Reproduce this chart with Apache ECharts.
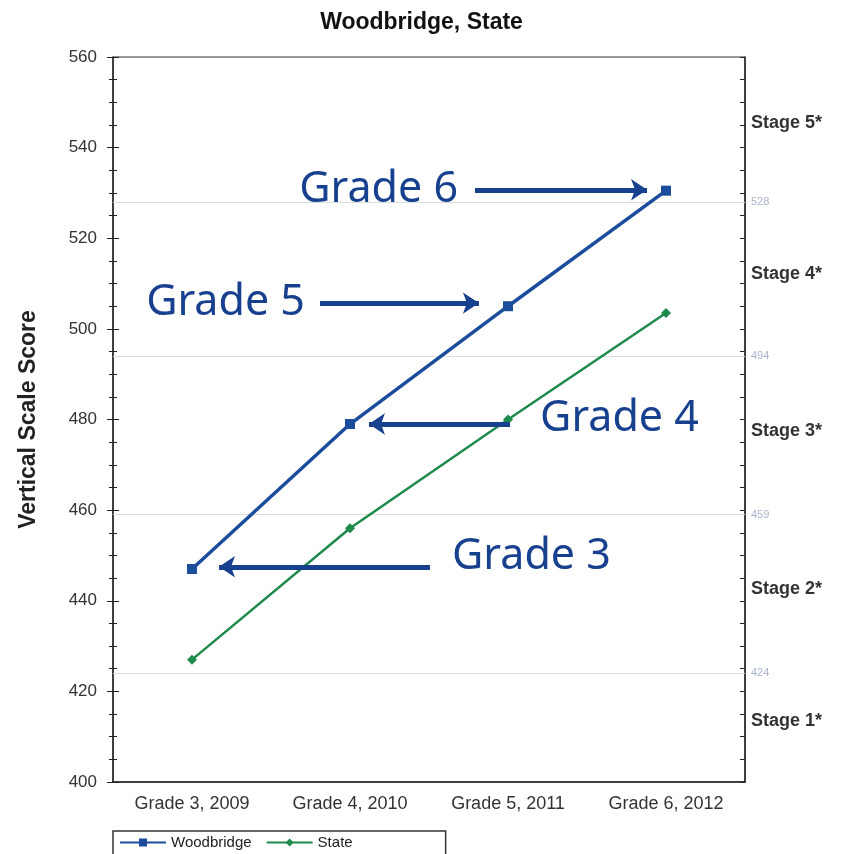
<!DOCTYPE html>
<html>
<head>
<meta charset="utf-8">
<script src="https://cdn.jsdelivr.net/npm/echarts@6/dist/echarts.min.js"></script>
<style>
html,body{margin:0;padding:0;background:#fff;}
#c{width:843px;height:854px;}
</style>
</head>
<body>
<div id="c"></div>
<script>
// ---- data ----
var categories = ['Grade 3, 2009', 'Grade 4, 2010', 'Grade 5, 2011', 'Grade 6, 2012'];
var woodbridge = [447, 479, 505, 530.5];
var state = [427, 456, 480, 503.5];
var cutScores = [424, 459, 494, 528];
var stageNames = ['Stage 1*', 'Stage 2*', 'Stage 3*', 'Stage 4*', 'Stage 5*'];
var stageValues = [413.5, 442.5, 477.5, 512, 545.5];
// annotation arrows in (category index, score) space
var arrowFrom = [[1.506, 447.5], [2.013, 479.0], [0.810, 505.7], [1.791, 530.7]];
var arrowTo   = [[0.171, 447.5], [1.120, 479.0], [1.816, 505.7], [2.880, 530.7]];
var noteTexts = ['Grade 3', 'Grade 4', 'Grade 5', 'Grade 6'];
var notePos   = [[1.646, 449.7], [2.203, 480.1], [0.715, 505.7], [1.684, 530.7]];
var noteSide  = ['right', 'right', 'left', 'left'];

var blue = '#1b4d9c', green = '#1e8a4b', noteColor = '#17408f';
var minorTickVals = [];
for (var v = 400; v <= 560; v += 5) minorTickVals.push(v);

var chart = echarts.init(document.getElementById('c'));
chart.setOption({
  backgroundColor: '#fff',
  animation: false,
  title: {
    text: 'Woodbridge, State', left: 'center', top: 6,
    textStyle: {fontFamily: 'Liberation Sans', fontWeight: 'bold', fontSize: 23, color: '#111'}
  },
  legend: {
    left: 113, top: 831, padding: [4, 93, 10, 6], itemGap: 14,
    borderColor: '#333', borderWidth: 1.5, itemWidth: 46, itemHeight: 10,
    textStyle: {fontFamily: 'Liberation Sans', fontSize: 15, color: '#222'},
    data: ['Woodbridge', 'State']
  },
  grid: {left: 113, right: 98, top: 57, bottom: 72, show: true, borderColor: '#333', borderWidth: 1},
  xAxis: [{
    type: 'category', data: categories, boundaryGap: true,
    axisLine: {lineStyle: {color: '#222', width: 1.5}},
    axisTick: {alignWithLabel: true, length: 6, lineStyle: {color: '#222'}},
    axisLabel: {fontFamily: 'Liberation Sans', fontSize: 18, color: '#333', margin: 13}
  }, {
    type: 'value', min: -0.5, max: 3.5, show: false
  }],
  yAxis: [{
    type: 'value', min: 400, max: 560, interval: 20, position: 'left',
    name: 'Vertical Scale Score', nameLocation: 'middle', nameGap: 73,
    nameTextStyle: {fontFamily: 'Liberation Sans', fontWeight: 'bold', fontSize: 23, color: '#222'},
    axisLine: {show: true, onZero: false, lineStyle: {color: '#222', width: 1.5}},
    axisTick: {show: true, length: 6, lineStyle: {color: '#222'}},
    minorTick: {show: true, splitNumber: 4, length: 4, lineStyle: {color: '#222'}},
    splitLine: {show: false},
    axisLabel: {fontFamily: 'Liberation Sans', fontSize: 17, color: '#333', margin: 16}
  }, {
    type: 'value', min: 400, max: 560, position: 'right',
    axisLine: {show: true, onZero: false, lineStyle: {color: '#222', width: 1.5}},
    axisTick: {show: true, inside: true, length: 5, customValues: minorTickVals, lineStyle: {color: '#222'}},
    splitLine: {show: false},
    axisLabel: {
      customValues: cutScores.concat(stageValues), margin: 6,
      formatter: function (val) {
        var i = stageValues.indexOf(val);
        if (i >= 0) return '{s|' + stageNames[i] + '}';
        return '{c|' + val + '}';
      },
      rich: {
        s: {fontFamily: 'Liberation Sans', fontWeight: 'bold', fontSize: 18, color: '#333'},
        c: {fontFamily: 'Liberation Sans', fontSize: 11, color: '#a9b3cc'}
      }
    }
  }, {
    type: 'value', min: 400, max: 560, interval: 20, position: 'left',
    axisLine: {show: false, onZero: false}, axisLabel: {show: false}, splitLine: {show: false},
    axisTick: {show: true, inside: true, length: 6, lineStyle: {color: '#222'}},
    minorTick: {show: true, splitNumber: 4, length: 4, lineStyle: {color: '#222'}}
  }],
  series: [{
    name: 'Woodbridge', type: 'line', data: woodbridge, z: 5,
    symbol: 'rect', symbolSize: 10,
    lineStyle: {color: blue, width: 3.5}, itemStyle: {color: blue},
    markLine: {
      silent: true, symbol: 'none', label: {show: false},
      lineStyle: {color: '#dcdcdc', width: 1, type: 'solid'},
      data: cutScores.map(function (c) { return {yAxis: c}; })
    }
  }, {
    name: 'State', type: 'line', data: state, z: 5,
    symbol: 'diamond', symbolSize: 10,
    lineStyle: {color: green, width: 2.5}, itemStyle: {color: green}
  }, {
    type: 'lines', coordinateSystem: 'cartesian2d', xAxisIndex: 1, yAxisIndex: 0, z: 6,
    symbol: ['none', 'arrow'], symbolSize: [14, 16],
    lineStyle: {color: noteColor, width: 5, opacity: 1},
    data: arrowFrom.map(function (f, i) { return {coords: [f, arrowTo[i]]}; })
  }, {
    type: 'scatter', xAxisIndex: 1, yAxisIndex: 0, symbolSize: 0, z: 7, silent: true,
    itemStyle: {opacity: 1},
    data: notePos.map(function (p, i) {
      return {name: noteTexts[i], value: p, label: {position: noteSide[i]}};
    }),
    label: {
      show: true, distance: 0, formatter: '{b}', opacity: 1,
      fontFamily: 'Noto Sans', fontSize: 43, color: noteColor
    }
  }]
});
</script>
</body>
</html>
